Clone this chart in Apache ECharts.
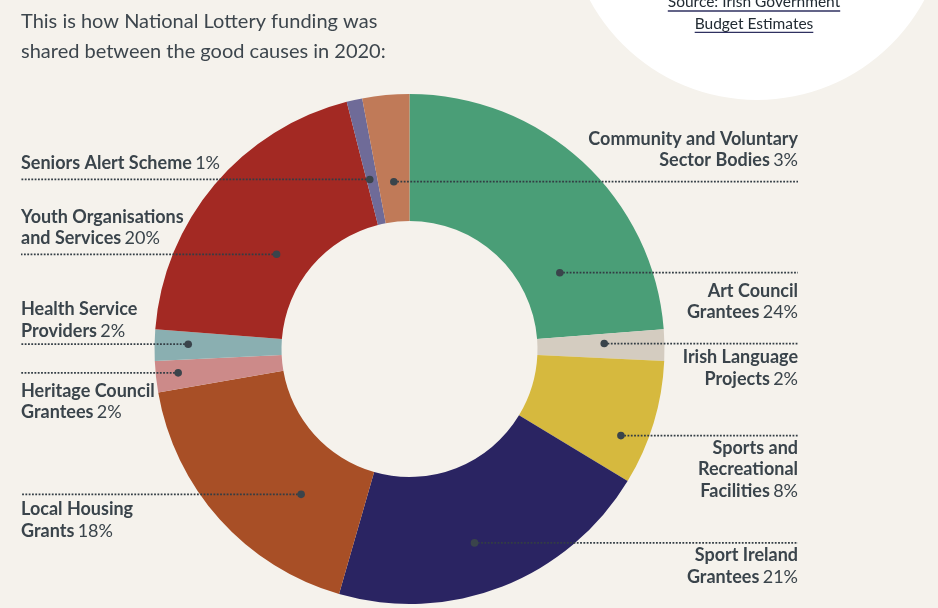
<!DOCTYPE html>
<html>
<head>
<meta charset="utf-8">
<script src="https://cdn.jsdelivr.net/npm/echarts@6/dist/echarts.min.js"></script>
<style>
  html, body { margin: 0; padding: 0; background: #f5f2ec; }
  #chart { width: 938px; height: 608px; }
</style>
</head>
<body>
<div id="chart"></div>
<script>
// slices, clockwise from 12 o'clock
const causes = [
  'Art Council\nGrantees',
  'Irish Language\nProjects',
  'Sports and\nRecreational\nFacilities',
  'Sport Ireland\nGrantees',
  'Local Housing\nGrants',
  'Heritage Council\nGrantees',
  'Health Service\nProviders',
  'Youth Organisations\nand Services',
  'Seniors Alert Scheme',
  'Community and Voluntary\nSector Bodies'
];
const shares = [24, 2, 8, 21, 18, 2, 2, 20, 1, 3];
const colors = ['#4a9e77', '#d4ccc0', '#d6b93e', '#2a2462', '#a84f26', '#cc8a89', '#8aafb1', '#a32923', '#6f6b98', '#c07a58'];

// where each leader line starts: [radius as share of outer radius, angle in data units]
const anchors = [[0.661, 17.7], [0.764, 24.8], [0.896, 31.5], [0.802, 45.3], [0.711, 60.8],
                 [0.912, 74.1], [0.868, 76.1], [0.640, 85.7], [0.683, 97.3], [0.659, 99.5]];
const labelSide = ['r', 'r', 'r', 'r', 'l', 'l', 'l', 'l', 'l', 'r'];
const labelPlace = ['below', 'below', 'below', 'below', 'below', 'below', 'above', 'above', 'above', 'above'];
// distance from the leader line to the nearest text baseline
const labelGap = [23.4, 19.4, 17.6, 18, 20.7, 23.3, 7.7, 10.3, 10.5, 15.6];

const INK = '#3a444b';
const FONT = 'Lato';
const LABEL_SIZE = 18, LABEL_LH = 21.5;
const total = shares.reduce((a, b) => a + b, 0);
const CENTER = [409.5, 349];

const chart = echarts.init(document.getElementById('chart'));

function labelText(i) {
  const lines = causes[i].split('\n').map(s => '{b|' + s + '}');
  lines[lines.length - 1] += ' {p|' + shares[i] + '%}';
  return lines.join('\n');
}

// measure the source text so the underline fits it
const SRC_FONT = '15.5px ' + FONT;
const ctx = document.createElement('canvas').getContext('2d');
ctx.font = SRC_FONT;
const src1 = 'Source: Irish Government', src2 = 'Budget Estimates';
const w1 = ctx.measureText(src1).width, w2 = ctx.measureText(src2).width;
const srcX = 754;

chart.setOption({
  animation: false,
  backgroundColor: '#f5f2ec',
  title: {
    text: 'This is how National Lottery funding was\nshared between the good causes in 2020:',
    left: 16,
    top: 2,
    textStyle: { fontFamily: FONT, fontWeight: 'normal', fontSize: 20, lineHeight: 30, color: '#3d464d' }
  },
  graphic: [
    { type: 'circle', shape: { cx: 757, cy: -90, r: 190 }, style: { fill: '#ffffff' }, z: 0 },
    { type: 'text', x: srcX, y: 2.3, style: { text: src1, font: SRC_FONT, fill: '#222b33', align: 'center', verticalAlign: 'middle' } },
    { type: 'text', x: srcX, y: 23.6, style: { text: src2, font: SRC_FONT, fill: '#222b33', align: 'center', verticalAlign: 'middle' } },
    { type: 'line', shape: { x1: srcX - w1 / 2, y1: 11, x2: srcX + w1 / 2, y2: 11 }, style: { stroke: '#2f3160', lineWidth: 1.3 } },
    { type: 'line', shape: { x1: srcX - w2 / 2, y1: 32.3, x2: srcX + w2 / 2, y2: 32.3 }, style: { stroke: '#2f3160', lineWidth: 1.3 } }
  ],
  polar: { center: CENTER, radius: 255 },
  angleAxis: {
    type: 'value', min: 0, max: total, startAngle: 90, clockwise: true,
    axisLine: { show: false }, axisTick: { show: false }, axisLabel: { show: false }, splitLine: { show: false }
  },
  radiusAxis: {
    type: 'value', min: 0, max: 1,
    axisLine: { show: false }, axisTick: { show: false }, axisLabel: { show: false }, splitLine: { show: false }
  },
  series: [
    {
      type: 'pie',
      center: CENTER,
      radius: [128, 255],
      startAngle: 90,
      clockwise: true,
      label: { show: false },
      labelLine: { show: false },
      emphasis: { disabled: true },
      data: shares.map((v, i) => ({ value: v, name: causes[i], itemStyle: { color: colors[i] } }))
    },
    {
      type: 'custom',
      coordinateSystem: 'polar',
      z: 5,
      encode: { radius: 0, angle: 1 },
      data: anchors.map((a, i) => [a[0], a[1], i]),
      renderItem(params, api) {
        const i = api.value(2);
        const p = api.coord([api.value(0), api.value(1)]);
        const right = labelSide[i] === 'r';
        const above = labelPlace[i] === 'above';
        const edge = right ? 798 : 21;
        // baseline sits about 0.3em under the middle of a line box
        const shift = 0.3 * LABEL_SIZE;
        const y = above
          ? p[1] - labelGap[i] - shift + LABEL_LH / 2
          : p[1] + labelGap[i] - shift - LABEL_LH / 2;
        return {
          type: 'group',
          children: [
            { type: 'line', shape: { x1: p[0], y1: p[1], x2: edge, y2: p[1] },
              style: { stroke: '#333d44', lineWidth: 1.8, lineDash: [1.8, 1.5] } },
            { type: 'circle', shape: { cx: p[0], cy: p[1], r: 3.8 }, style: { fill: INK } },
            { type: 'text', x: edge, y: y,
              style: {
                text: labelText(i),
                align: right ? 'right' : 'left',
                verticalAlign: above ? 'bottom' : 'top',
                fill: INK,
                rich: {
                  b: { fontFamily: FONT, fontWeight: 'bold', fontSize: LABEL_SIZE, lineHeight: LABEL_LH, fill: INK },
                  p: { fontFamily: FONT, fontWeight: 'normal', fontSize: LABEL_SIZE, lineHeight: LABEL_LH, fill: INK }
                }
              } }
          ]
        };
      }
    }
  ]
});
</script>
</body>
</html>
